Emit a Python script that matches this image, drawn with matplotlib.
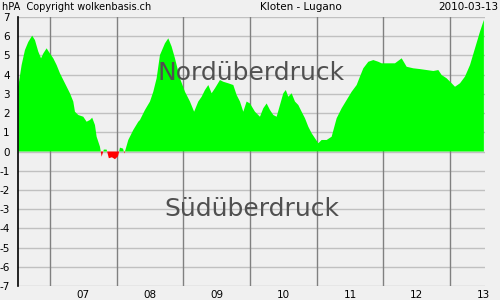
import numpy as np
import matplotlib
matplotlib.use('Agg')
import matplotlib.pyplot as plt


# --------------------------------------------------------------------------------------------------

# Hours counted from 2010-03-06 00:00, pressure difference Kloten - Lugano in hPa
hours = [12.6, 13.8, 15.0, 16.2, 17.6, 18.6, 19.8, 20.8, 21.6, 22.8, 24.0, 25.2, 26.4, 27.6, 29.4,
         31.2, 32.4, 33.0, 34.2, 36.0, 37.2, 38.4, 39.2, 40.2, 40.8, 42.0, 42.6, 43.4, 44.4, 45.2,
         46.3, 47.4, 48.5, 49.2, 50.3, 50.8, 51.4, 52.2, 54.0, 55.8, 56.4, 58.2, 60.0, 61.2, 62.4,
         63.6, 65.4, 66.6, 67.8, 69.0, 70.8, 72.6, 74.4, 75.9, 77.4, 78.6, 79.8, 81.0, 82.2, 83.4,
         85.2, 86.4, 88.2, 90.0, 91.2, 92.4, 93.6, 94.8, 96.0, 97.8, 99.6, 100.8, 102.0, 103.2,
         104.4, 105.6, 106.8, 108.0, 108.9, 109.8, 111.0, 112.2, 113.4, 114.6, 115.8, 117.0, 118.2,
         119.4, 120.6, 121.8, 123.6, 125.4, 127.2, 129.0, 130.8, 132.6, 134.4, 135.6, 136.8, 138.6,
         140.4, 142.2, 143.4, 145.8, 148.2, 150.6, 152.4, 154.8, 157.2, 159.6, 162.0, 163.8, 165.0,
         166.8, 168.6, 169.8, 171.6, 173.4, 175.2, 177.0, 178.8, 180.2]
dp = [3.37, 4.5, 5.28, 5.7, 6.03, 5.8, 5.2, 4.85, 5.1, 5.37, 5.1, 4.85, 4.5, 4.07, 3.55,
      3.03, 2.6, 2.07, 1.9, 1.81, 1.55, 1.64, 1.76, 1.38, 0.77, 0.25, -0.27, 0.1, 0.1, -0.35,
      -0.3, -0.4, -0.25, 0.2, 0.15, -0.1, 0.2, 0.6, 1.12, 1.55, 1.64, 2.16, 2.6, 3.11, 3.81,
      5.02, 5.63, 5.89, 5.46, 4.85, 3.81, 3.11, 2.6, 2.07, 2.6, 2.85, 3.2, 3.46, 3.03, 3.29,
      3.72, 3.63, 3.55, 3.46, 2.94, 2.6, 2.07, 2.6, 2.5, 2.07, 1.81, 2.25, 2.5, 2.16,
      1.9, 1.81, 2.42, 3.03, 3.2, 2.85, 3.03, 2.6, 2.42, 2.07, 1.73, 1.29, 0.95,
      0.69, 0.43, 0.6, 0.6, 0.77, 1.73, 2.25, 2.68, 3.11, 3.46, 3.9, 4.33, 4.67,
      4.76, 4.67, 4.59, 4.59, 4.59, 4.85, 4.41, 4.33, 4.29, 4.24, 4.19, 4.24, 3.98,
      3.81, 3.55, 3.37, 3.55, 3.9, 4.5, 5.37, 6.24, 6.85]

day_labels = ['07', '08', '09', '10', '11', '12', '13']
y_ticks = list(range(-7, 8))

# --------------------------------------------------------------------------------------------------

bg = '#f0f0f0'
fig = plt.figure(figsize=(5, 3), dpi=100, facecolor=bg)
ax = fig.add_axes([0.036, 0.0467, 0.934, 0.8966], facecolor=bg)

hours = np.array(hours)
dp = np.array(dp)

# Grid
# ----
for yv in y_ticks:
    ax.axhline(yv, color='#c0c0c0', lw=1, zorder=1)
for d in range(1, 8):
    ax.axvline(24 * d, color='#808080', lw=1, zorder=1)

# Pressure difference
# -------------------
ax.fill_between(hours, 0, dp, where=dp >= 0, interpolate=True, color='#00ff00', lw=0, zorder=2)
ax.fill_between(hours, 0, dp, where=dp <= 0, interpolate=True, color='#ff0000', lw=0, zorder=2)

ax.set_xlim(12.5, 180.6)
ax.set_ylim(-7, 7)

ax.text(0.5, 0.79, 'Nordüberdruck', transform=ax.transAxes, ha='center', va='center',
        fontsize=18, color='#505050', zorder=3)
ax.text(0.5, 0.285, 'Südüberdruck', transform=ax.transAxes, ha='center', va='center',
        fontsize=18, color='#505050', zorder=3)

# Axes labeling
# -------------
ax.set_yticks(y_ticks)
ax.set_yticklabels([str(v) for v in y_ticks], fontsize=7.5)
ax.set_xticks([24 * d + 12 for d in range(1, 8)])
ax.set_xticklabels(day_labels, fontsize=7.5)
ax.tick_params(length=0, pad=3)
ax.tick_params(axis='y', pad=6)
for s in ['top', 'right', 'bottom']:
    ax.spines[s].set_visible(False)
ax.spines['left'].set_color('black')
ax.spines['left'].set_linewidth(1.2)
ax.spines['left'].set_zorder(4)

fig.text(0.004, 0.977, 'hPA  Copyright wolkenbasis.ch', fontsize=7, va='center', ha='left')
fig.text(0.602, 0.977, 'Kloten - Lugano', fontsize=7.5, va='center', ha='center')
fig.text(0.996, 0.977, '2010-03-13', fontsize=7.5, va='center', ha='right')

plt.savefig('out.png', dpi=100, facecolor=bg)
plt.close('all')
